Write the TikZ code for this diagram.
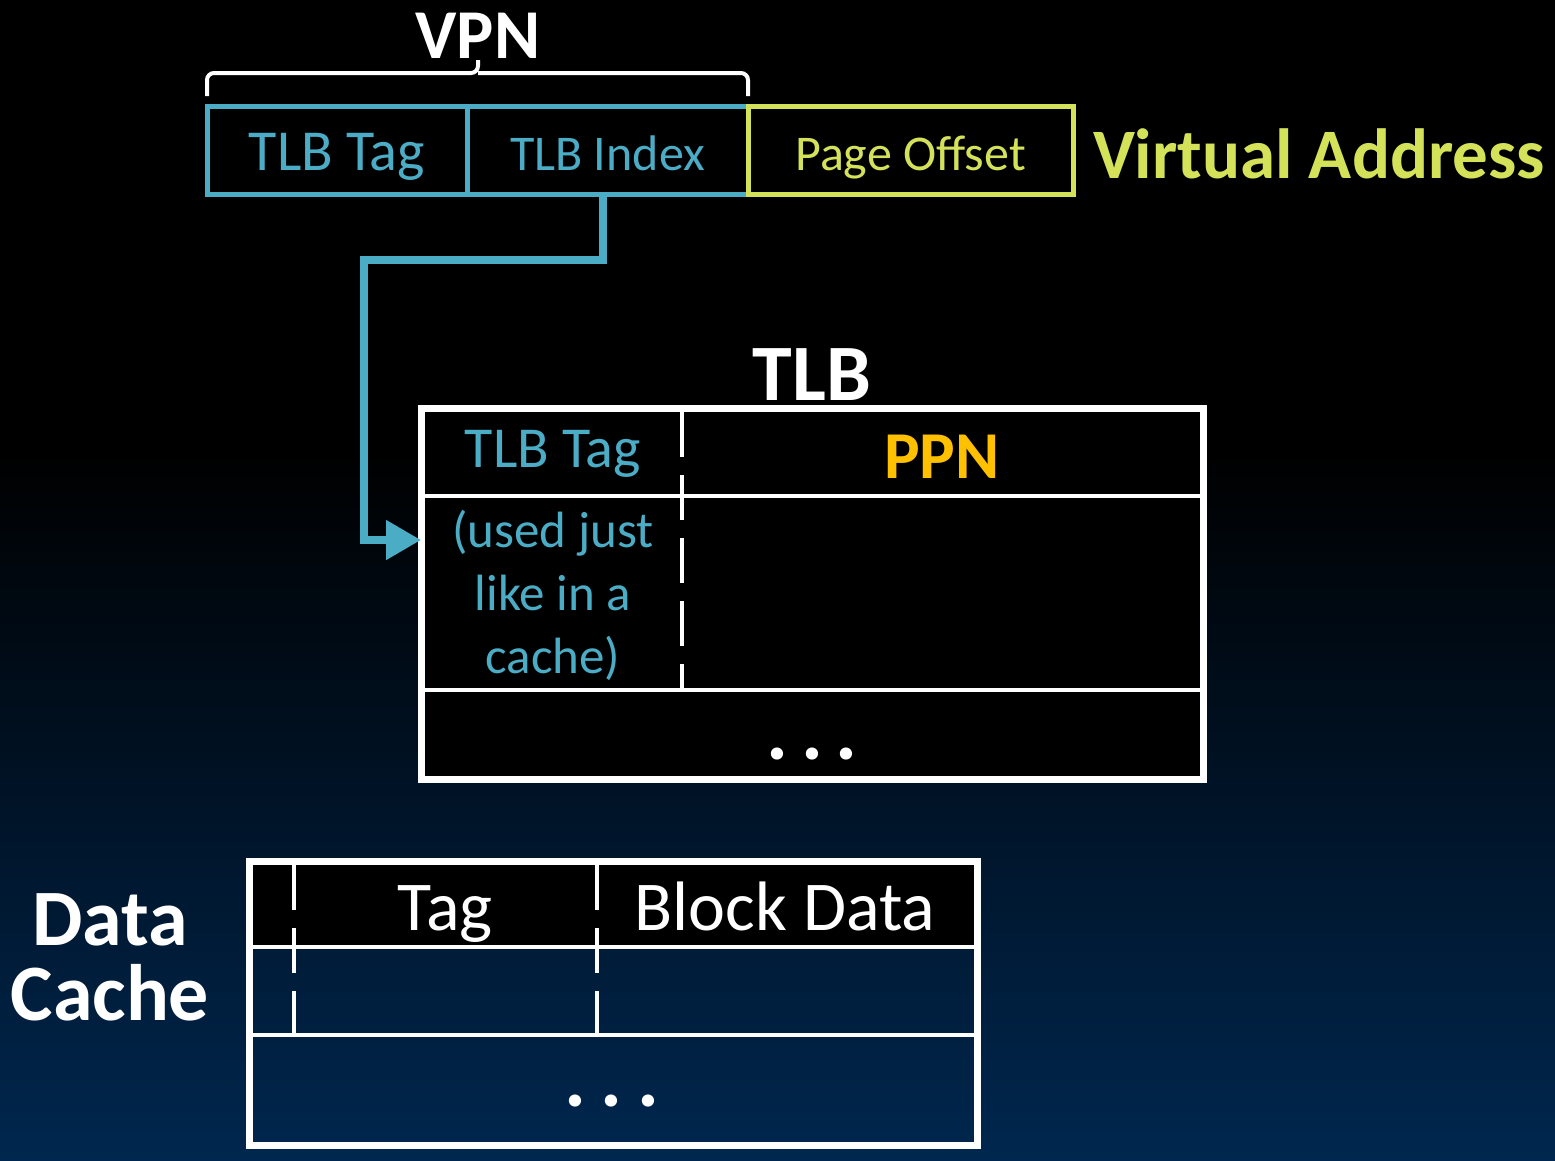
\documentclass[tikz,border=0pt]{standalone}
\usepackage{fontspec}
\setmainfont{Carlito}
\usetikzlibrary{arrows.meta,calc}
\definecolor{tlbblue}{RGB}{75,172,198}
\definecolor{vayellow}{RGB}{212,226,90}
\definecolor{ppncol}{RGB}{255,192,0}
\definecolor{bgnavy}{RGB}{0,39,79}
\begin{document}
\begin{tikzpicture}[x=1pt,y=-1pt,
  every node/.style={inner sep=0pt, outer sep=0pt},
  vabox/.style={draw, line width=5pt, minimum height=88pt, text height=45pt, text depth=5pt},
  frame/.style={draw=white, line width=7pt},
  rowrule/.style={draw=white, line width=4pt},
  divider/.style={draw=white, line width=4pt, dash pattern=on 45pt off 18pt},
  conn/.style={draw=tlbblue, line width=8pt, -{Triangle[length=35pt,width=38pt]}},
  lbl/.style={anchor=base},
  fbig/.style={font=\fontsize{58}{70}\selectfont},
  fmid/.style={font=\fontsize{50}{60}\selectfont},
  fhead/.style={font=\fontsize{70}{84}\selectfont},
  ftitle/.style={font=\bfseries\fontsize{80}{96}\selectfont},
  fdots/.style={font=\bfseries\fontsize{82}{96}\selectfont},
]
% background
\fill[black] (0,0) rectangle (1555,1160);
\shade[top color=black, bottom color=bgnavy] (0,450) rectangle (1555,1160);
\useasboundingbox (0,0) rectangle (1555,1160);

% virtual address
\node[vabox, draw=tlbblue, text=tlbblue, minimum width=260pt, fbig] (tagbox) at (337,150) {TLB Tag};
\node[vabox, draw=tlbblue, text=tlbblue, minimum width=281pt, fmid] (idxbox) at (607.5,150) {TLB Index};
\node[vabox, draw=vayellow, text=vayellow, minimum width=325pt, fmid] (offbox) at (910.5,150) {Page Offset};
\node[anchor=base west, text=vayellow, font=\bfseries\fontsize{71}{85}\selectfont] (va) at (1093,178) {Virtual Address};

% VPN brace
\draw[white, line width=4pt, rounded corners=7pt] (207,96) |- (478,73) -- (478,60);
\draw[white, line width=4pt, rounded corners=7pt] (478,73) -| (748,96);
\node[lbl, text=white, font=\bfseries\fontsize{70}{84}\selectfont] (vpn) at (478,58) {VPN};

% TLB
\node[lbl, text=white, ftitle] (tlbtitle) at (812,400) {TLB};
\node[frame, fill=black, minimum width=782pt, minimum height=371pt] (tlb) at (812,593.5) {};
\draw[rowrule] (421,496) -- (1203,496);
\draw[rowrule] (421,690) -- (1203,690);
\draw[divider] (682,412) -- (682,690);
\node[lbl, text=tlbblue, fbig] (ttag) at (553,467) {TLB Tag};
\node[lbl, text=ppncol, font=\bfseries\fontsize{67}{80}\selectfont] (ppn) at (942,478) {PPN};
\node[lbl, text=tlbblue, font=\fontsize{51}{61}\selectfont] (used1) at (553,547) {(used just};
\node[lbl, text=tlbblue, font=\fontsize{51}{61}\selectfont] (used2) at (553,610) {like in a};
\node[lbl, text=tlbblue, font=\fontsize{51}{61}\selectfont] (used3) at (553,673) {cache)};
\node[lbl, text=white, fdots] (tlbdots) at (812,759) {.\hspace{13pt}.\hspace{13pt}.};

% connector
\coordinate (bend) at (364,260);
\coordinate (tip) at (tlb.west |- 0,540);
\draw[conn] ($(idxbox.south)+(-5,0)$) |- (bend) |- (tip);

% Data cache
\fill[black] (249,861) rectangle (977,947);
\node[frame, minimum width=728pt, minimum height=284pt] (dc) at (613,1003) {};
\draw[rowrule] (249,947) -- (977,947);
\draw[rowrule] (249,1035) -- (977,1035);
\draw[divider] (294,865) -- (294,1035);
\draw[divider] (597,865) -- (597,1035);
\node[lbl, text=white, fhead] (dctag) at (445,930) {Tag};
\node[lbl, text=white, fhead] (dcdata) at (785,930) {Block Data};
\node[lbl, text=white, fdots] (dcdots) at (612,1106) {.\hspace{15pt}.\hspace{15pt}.};
\node[lbl, text=white, ftitle] (dname1) at (110,945) {Data};
\node[lbl, text=white, ftitle] (dname2) at (110,1020) {Cache};
\end{tikzpicture}
\end{document}
